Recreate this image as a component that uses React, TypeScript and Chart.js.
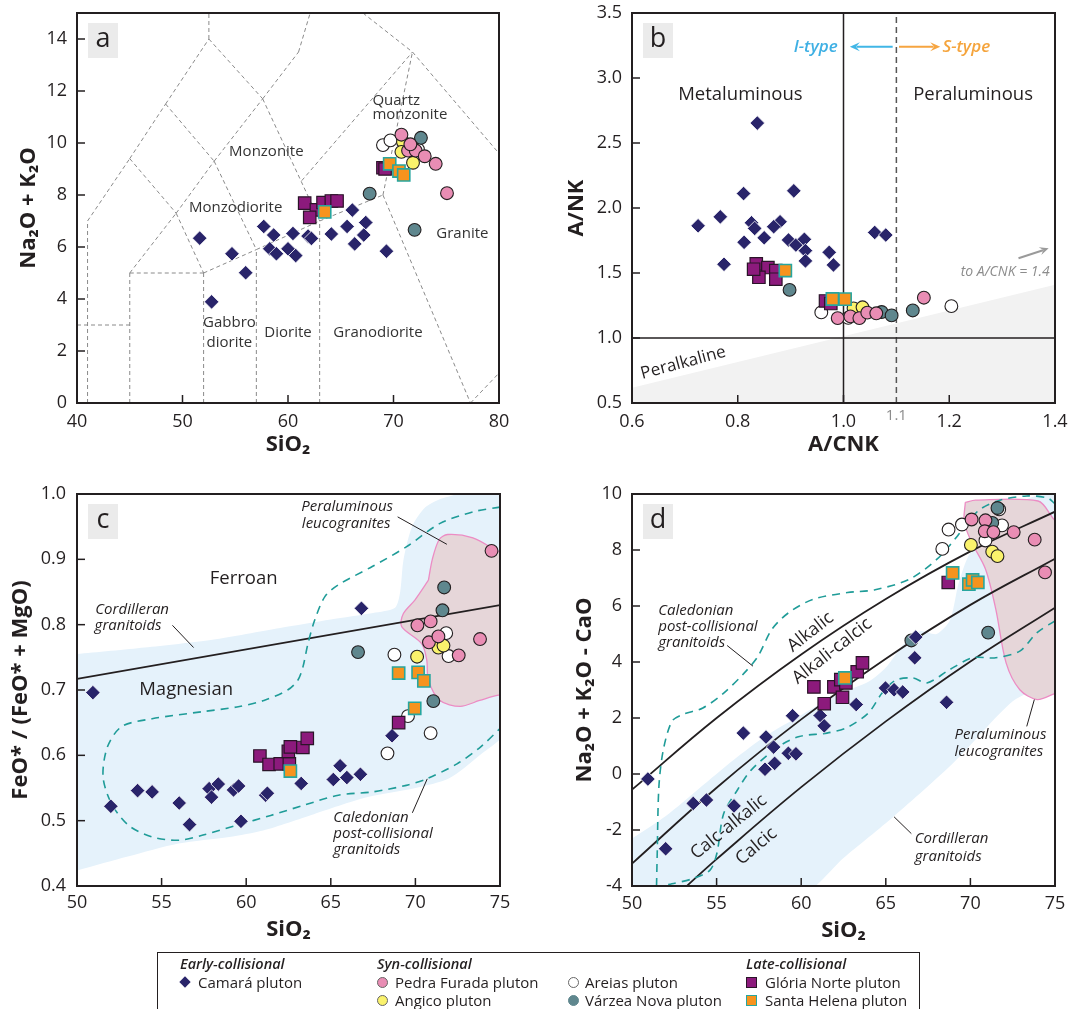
import React, { useEffect, useRef } from 'react';
import { Chart, registerables } from 'chart.js';

Chart.register(...registerables);

type P = [number, number];
const FONT = '"Open Sans", "Noto Sans", "DejaVu Sans", sans-serif';
const INK = '#231f20';
Chart.defaults.font.family = FONT;
Chart.defaults.color = INK;

// ---------------- tick values ----------------
const xTicksA = [40, 50, 60, 70, 80];
const yTicksA = [0, 2, 4, 6, 8, 10, 12, 14];
const xTicksB = [0.6, 0.8, 1.0, 1.2, 1.4];
const yTicksB = [0.5, 1.0, 1.5, 2.0, 2.5, 3.0, 3.5];
const xTicksCD = [50, 55, 60, 65, 70, 75];
const yTicksC = [0.4, 0.5, 0.6, 0.7, 0.8, 0.9, 1.0];
const yTicksD = [-4, -2, 0, 2, 4, 6, 8, 10];

// ---------------- panel a: TAS ----------------
const camaraA: P[] = [[51.63, 6.34], [52.76, 3.89], [54.69, 5.74], [55.99, 5.01], [57.7, 6.79], [58.64, 6.46], [60.47, 6.52], [61.9, 6.42], [62.22, 6.33], [58.27, 5.93], [58.9, 5.74], [60.0, 5.93], [60.73, 5.67], [64.11, 6.5], [66.1, 7.42], [65.6, 6.79], [67.37, 6.94], [67.18, 6.46], [66.32, 6.12], [69.33, 5.84]];
const pedraA: P[] = [[70.75, 10.32], [71.38, 9.71], [72.1, 9.71], [72.96, 9.49], [74.0, 9.2], [75.07, 8.07], [71.6, 9.95]];
const angicoA: P[] = [[70.9, 10.04], [70.75, 9.66], [71.85, 9.24]];
const areiasA: P[] = [[69.0, 9.92], [69.71, 10.1], [72.32, 9.75], [71.6, 9.85]];
const varzeaA: P[] = [[72.6, 10.2], [67.74, 8.05], [72.0, 6.66]];
const gloriaA: P[] = [[61.58, 7.69], [62.69, 7.43], [62.06, 7.14], [63.32, 7.71], [64.11, 7.77], [64.65, 7.77], [69.0, 9.05], [69.2, 9.0]];
const santaA: P[] = [[63.48, 7.35], [69.64, 9.2], [70.52, 8.92], [70.97, 8.77]];
const tasLinesA: [number, number, number, number][] = [
  [41, 0, 41, 7], [40, 3, 45, 3], [45, 0, 45, 5], [45, 5, 52, 5], [52, 0, 52, 5], [57, 0, 57, 5.9], [63, 0, 63, 7],
  [52, 5, 57, 5.9], [57, 5.9, 63, 7], [63, 7, 69, 8], [69, 8, 77.3, 0], [77.3, 0, 80, 1.15],
  [41, 7, 45, 9.4], [45, 9.4, 48.4, 11.5], [48.4, 11.5, 52.5, 14], [52.5, 14, 52.5, 15],
  [45, 5, 49.4, 7.3], [49.4, 7.3, 53, 9.3], [53, 9.3, 57.6, 11.7], [57.6, 11.7, 61, 13.5], [61, 13.5, 62.1, 15],
  [45, 9.4, 49.4, 7.3], [49.4, 7.3, 52, 5], [48.4, 11.5, 53, 9.3], [53, 9.3, 57, 5.9],
  [52.5, 14, 57.6, 11.7], [57.6, 11.7, 63, 7], [61.3, 8.55, 71.8, 13.5], [69, 8, 71.8, 13.5],
  [67.1, 15, 71.8, 13.5], [71.8, 13.5, 80, 9.6],
];

// ---------------- panel b: A/NK vs A/CNK ----------------
const camaraB: P[] = [[0.837, 2.653], [0.725, 1.863], [0.767, 1.932], [0.774, 1.567], [0.811, 2.111], [0.906, 2.132], [0.812, 1.736], [0.826, 1.886], [0.832, 1.843], [0.85, 1.771], [0.88, 1.894], [0.868, 1.856], [0.896, 1.754], [0.91, 1.715], [0.926, 1.759], [0.928, 1.672], [0.928, 1.593], [0.973, 1.659], [0.981, 1.562], [1.059, 1.812], [1.08, 1.792]];
const pedraB: P[] = [[1.152, 1.31], [0.989, 1.153], [1.013, 1.166], [1.03, 1.153], [1.045, 1.195], [1.062, 1.19]];
const angicoB: P[] = [[1.019, 1.228], [1.036, 1.236]];
const areiasB: P[] = [[0.958, 1.197], [1.009, 1.155], [1.204, 1.245]];
const varzeaB: P[] = [[0.898, 1.37], [1.072, 1.2], [1.091, 1.174], [1.131, 1.212]];
const gloriaB: P[] = [[0.835, 1.57], [0.857, 1.542], [0.872, 1.519], [0.84, 1.467], [0.872, 1.452], [0.83, 1.529], [0.966, 1.285], [0.976, 1.265]];
const santaB: P[] = [[0.89, 1.519], [0.979, 1.3], [1.003, 1.299]];
const peralkalineB: P[] = [[0.6, 0.45], [0.6, 0.617], [1.4, 1.409], [1.4, 0.45]];
const hLineB: P[] = [[0.6, 1.0], [1.4, 1.0]];
const vLineB: P[] = [[1.0, 0.5], [1.0, 3.5]];
const vDashB: P[] = [[1.1, 0.5], [1.1, 3.5]];

// ---------------- panel c: FeO*/(FeO*+MgO) ----------------
const camaraC: P[] = [[50.94, 0.696], [52.0, 0.522], [53.58, 0.546], [54.44, 0.544], [56.04, 0.527], [56.65, 0.494], [57.81, 0.549], [57.95, 0.536], [58.35, 0.556], [59.25, 0.547], [59.55, 0.553], [59.69, 0.499], [61.15, 0.539], [61.25, 0.542], [63.25, 0.557], [65.15, 0.563], [65.55, 0.584], [65.95, 0.566], [66.75, 0.571], [66.81, 0.825], [68.62, 0.63]];
const pedraC: P[] = [[70.12, 0.799], [70.9, 0.805], [70.8, 0.773], [71.36, 0.782], [72.56, 0.753], [73.82, 0.778], [74.5, 0.913]];
const angicoC: P[] = [[70.1, 0.751], [71.36, 0.765], [71.66, 0.768]];
const areiasC: P[] = [[68.76, 0.754], [69.56, 0.66], [68.35, 0.603], [70.9, 0.634], [71.82, 0.787], [71.96, 0.752]];
const varzeaC: P[] = [[66.61, 0.758], [71.7, 0.857], [71.6, 0.822], [71.06, 0.683]];
const gloriaC: P[] = [[60.81, 0.599], [61.35, 0.586], [62.01, 0.587], [62.55, 0.587], [62.49, 0.606], [62.61, 0.613], [63.35, 0.612], [63.61, 0.626], [69.01, 0.65]];
const santaC: P[] = [[62.61, 0.576], [69.01, 0.726], [70.16, 0.727], [70.5, 0.714], [69.96, 0.672]];
const ferroanLineC: P[] = [[50, 0.717], [75, 0.83]];
const cordilleranC: P[] = [[50, 0.755], [54, 0.765], [58, 0.777], [62, 0.795], [65, 0.808], [67.5, 0.818], [68.8, 0.826], [69.1, 0.85], [69.3, 0.9], [69.8, 0.95], [70.6, 0.98], [71.8, 0.995], [75.5, 1.01], [75.5, 0.643], [73.8, 0.6], [72, 0.565], [70, 0.55], [67, 0.535], [64, 0.51], [61, 0.485], [59, 0.475], [56, 0.465], [53, 0.445], [49.5, 0.42]];
const leucoC: P[] = [[70.77, 0.868], [71.0, 0.9], [71.4, 0.93], [71.9, 0.938], [73.4, 0.933], [74.6, 0.916], [75.5, 0.9], [75.5, 0.69], [74.9, 0.692], [73.8, 0.684], [72.64, 0.675], [71.45, 0.684], [70.77, 0.715], [70.67, 0.746], [70.37, 0.771], [69.19, 0.797], [69.29, 0.817], [69.98, 0.838], [70.77, 0.868]];
const caledonianC: P[] = [[75, 0.98], [73.46, 0.973], [71.46, 0.955], [69.46, 0.919], [67.45, 0.889], [65.45, 0.861], [64.65, 0.843], [64.05, 0.807], [63.65, 0.771], [63.35, 0.735], [63.05, 0.715], [62.45, 0.7], [61.05, 0.684], [59.45, 0.674], [57.45, 0.667], [54.44, 0.656], [52.64, 0.644], [51.8, 0.613], [51.54, 0.567], [52.04, 0.526], [53.04, 0.493], [54.44, 0.475], [56.04, 0.47], [57.45, 0.478], [59.45, 0.493], [61.45, 0.508], [63.45, 0.524], [65.45, 0.539], [67.45, 0.544], [69.46, 0.554], [70.66, 0.564], [72.46, 0.587], [73.86, 0.613], [75, 0.641]];

// ---------------- panel d: MALI ----------------
const camaraD: P[] = [[50.94, -0.18], [51.99, -2.67], [53.62, -1.05], [54.4, -0.93], [56.03, -1.14], [56.58, 1.46], [57.92, 1.32], [57.86, 0.17], [58.37, 0.96], [58.43, 0.38], [59.24, 0.74], [59.69, 0.72], [59.49, 2.08], [61.12, 2.09], [61.36, 1.72], [63.25, 2.48], [64.98, 3.07], [65.49, 3.01], [66.0, 2.93], [66.71, 4.15], [66.77, 4.89], [68.59, 2.56]];
const pedraD: P[] = [[70.07, 9.09], [70.89, 9.06], [70.85, 8.67], [71.36, 8.64], [72.56, 8.64], [73.8, 8.37], [74.41, 7.2]];
const angicoD: P[] = [[70.03, 8.18], [71.29, 7.94], [71.6, 7.78]];
const areiasD: P[] = [[68.34, 8.04], [68.71, 8.73], [69.5, 8.91], [70.89, 8.34], [71.87, 8.88], [71.7, 9.45]];
const varzeaD: P[] = [[71.05, 5.05], [71.29, 8.97], [71.6, 9.5], [66.51, 4.77]];
const gloriaD: P[] = [[60.75, 3.11], [61.36, 2.51], [61.93, 3.11], [62.44, 2.74], [62.34, 3.37], [62.64, 3.25], [63.31, 3.65], [63.62, 3.97], [68.69, 6.84]];
const santaD: P[] = [[62.58, 3.43], [68.95, 7.18], [69.91, 6.78], [70.13, 6.93], [70.44, 6.84]];
const alkalicLineD: P[] = [[50, -0.56], [55, 2.0], [60, 4.27], [65, 6.25], [70, 7.95], [75, 9.37]];
const alkaliCalcicLineD: P[] = [[50, -3.2], [55, -0.49], [60, 1.95], [65, 4.12], [70, 6.04], [75, 7.69]];
const calcAlkalicLineD: P[] = [[53.2, -4.02], [55, -3.04], [60, -0.47], [65, 1.88], [70, 4.02], [75, 5.94]];
const cordilleranD: P[] = [[49.5, -2.5], [52, -1.5], [54, -0.5], [56, 0.5], [58, 1.4], [60, 2.1], [62, 2.8], [64, 3.3], [65, 3.8], [66, 4.6], [67, 5.1], [68, 5.0], [68.8, 5.5], [69.3, 6.8], [69.9, 7.8], [71, 8.7], [72.5, 9.6], [75.5, 10.0], [75.5, 3.7], [72.5, 2.6], [69, 0.4], [65.5, -1.5], [62.5, -3.0], [60, -4.3], [49.5, -4.3]];
const leucoD: P[] = [[69.7, 9.7], [70.3, 9.78], [74.0, 9.75], [74.8, 9.2], [75.5, 8.5], [75.5, 3.0], [74.9, 2.85], [73.94, 2.66], [72.92, 3.01], [72.11, 3.97], [71.5, 5.89], [70.89, 7.32], [70.07, 8.28], [69.63, 9.0], [69.7, 9.7]];
const caledonianUpperD: P[] = [[51.45, -4.0], [51.49, -2.85], [51.59, -0.45], [51.85, 0.86], [52.36, 1.88], [52.97, 2.12], [54.19, 2.36], [55.42, 2.89], [56.64, 3.61], [57.45, 4.21], [58.27, 5.17], [59.28, 5.77], [60.71, 6.24], [62.74, 6.48], [64.37, 6.58], [66.41, 6.96], [68.04, 7.68], [69.26, 8.52], [70.48, 9.41], [71.7, 9.77], [73.33, 9.93], [74.55, 9.86], [75, 9.65]];
const caledonianLowerD: P[] = [[75, 5.47], [73.94, 5.05], [72.92, 4.39], [71.5, 4.15], [70.11, 4.15], [68.7, 3.7], [67.43, 3.25], [66.61, 3.43], [65.59, 3.35], [64.78, 2.89], [63.97, 2.18], [62.74, 1.67], [61.52, 1.46], [59.89, 1.34], [58.67, 0.98], [57.04, 0.14], [56.23, -0.57], [55.42, -1.41], [55.01, -2.85], [54.6, -3.44], [53.58, -3.74], [52.36, -3.92], [51.75, -4.0]];

// ---------------- series styles ----------------
const SERIES = [
  { key: 'santa', label: 'Santa Helena pluton', style: 'rect', r: 8.6, bg: '#f7931e', bc: '#27a69f', bw: 1.6, order: 1 },
  { key: 'gloria', label: 'Glória Norte pluton', style: 'rect', r: 8.8, bg: '#8c1a7c', bc: '#2a1428', bw: 1.2, order: 2 },
  { key: 'pedra', label: 'Pedra Furada pluton', style: 'circle', r: 6.4, bg: '#e98db4', bc: INK, bw: 1.1, order: 3 },
  { key: 'camara', label: 'Camará pluton', style: 'rectRot', r: 7.3, bg: '#29246a', bc: '#ffffff', bw: 0.8, order: 4 },
  { key: 'varzea', label: 'Várzea Nova pluton', style: 'circle', r: 6.4, bg: '#5f878e', bc: INK, bw: 1.1, order: 5 },
  { key: 'angico', label: 'Angico pluton', style: 'circle', r: 6.4, bg: '#faf26c', bc: INK, bw: 1.1, order: 6 },
  { key: 'areias', label: 'Areias pluton', style: 'circle', r: 6.4, bg: '#ffffff', bc: INK, bw: 1.1, order: 7 },
];

const xy = (a: P[]) => a.map(([x, y]) => ({ x, y }));

function pointSets(d: Record<string, P[]>) {
  return SERIES.map((s) => ({
    label: s.label,
    data: xy(d[s.key]),
    showLine: false,
    pointStyle: s.style,
    pointRadius: s.r,
    pointBackgroundColor: s.bg,
    pointBorderColor: s.bc,
    pointBorderWidth: s.bw,
    order: s.order,
  }));
}

function lineSet(pts: P[], color: string, width: number, dash: number[] = [], tension = 0) {
  return { data: xy(pts), showLine: true, borderColor: color, borderWidth: width, borderDash: dash, pointRadius: 0, tension, fill: false, order: 50 };
}

function polySet(pts: P[], fillColor: string, order: number, stroke?: string, tension = 0) {
  return {
    data: xy(pts), showLine: true, fill: 'shape', backgroundColor: fillColor,
    borderColor: stroke || 'rgba(0,0,0,0)', borderWidth: stroke ? 1.3 : 0,
    pointRadius: 0, tension, order,
  };
}

// ---------------- annotations ----------------
type Txt = { x: number; y: number; t: string; size: number; align?: string; italic?: boolean; weight?: number; color?: string; rot?: number; dy?: number };
type Arrow = { a: P; b: P; color: string; width: number; head: number };
type Anno = { letter: string; texts: Txt[]; leaders?: [P, P][]; arrows?: Arrow[] };

function annoPlugin(spec: Anno) {
  return {
    id: 'anno' + spec.letter,
    afterDatasetsDraw(chart: any) {
      const { ctx, chartArea: ca } = chart;
      const xs = chart.scales.x;
      const ys = chart.scales.y;
      const px = (v: number) => xs.getPixelForValue(v);
      const py = (v: number) => ys.getPixelForValue(v);
      ctx.save();
      ctx.setLineDash([]);
      ctx.strokeStyle = INK;
      ctx.lineWidth = 1;
      for (const [p, q] of spec.leaders || []) {
        ctx.beginPath();
        ctx.moveTo(px(p[0]), py(p[1]));
        ctx.lineTo(px(q[0]), py(q[1]));
        ctx.stroke();
      }
      for (const ar of spec.arrows || []) {
        const x1 = px(ar.a[0]), y1 = py(ar.a[1]), x2 = px(ar.b[0]), y2 = py(ar.b[1]);
        const ang = Math.atan2(y2 - y1, x2 - x1);
        const h = ar.head;
        ctx.strokeStyle = ar.color;
        ctx.fillStyle = ar.color;
        ctx.lineWidth = ar.width;
        ctx.beginPath();
        ctx.moveTo(x1, y1);
        ctx.lineTo(x2 - h * 0.6 * Math.cos(ang), y2 - h * 0.6 * Math.sin(ang));
        ctx.stroke();
        ctx.beginPath();
        ctx.moveTo(x2, y2);
        ctx.lineTo(x2 - h * Math.cos(ang - 0.42), y2 - h * Math.sin(ang - 0.42));
        ctx.lineTo(x2 - h * 0.55 * Math.cos(ang), y2 - h * 0.55 * Math.sin(ang));
        ctx.lineTo(x2 - h * Math.cos(ang + 0.42), y2 - h * Math.sin(ang + 0.42));
        ctx.closePath();
        ctx.fill();
      }
      for (const t of spec.texts) {
        ctx.save();
        ctx.translate(px(t.x), py(t.y) + (t.dy || 0));
        if (t.rot) ctx.rotate((t.rot * Math.PI) / 180);
        ctx.font = `${t.italic ? 'italic ' : ''}${t.weight || 400} ${t.size}px ${FONT}`;
        ctx.fillStyle = t.color || INK;
        ctx.textAlign = (t.align || 'center') as CanvasTextAlign;
        ctx.textBaseline = 'middle';
        ctx.fillText(t.t, 0, 0);
        ctx.restore();
      }
      // inward tick marks
      ctx.strokeStyle = INK;
      ctx.lineWidth = 1.5;
      for (const tk of xs.ticks) {
        const v = tk.value;
        if (v <= xs.min + 1e-9 || v >= xs.max - 1e-9) continue;
        const p = px(v);
        ctx.beginPath();
        ctx.moveTo(p, ca.bottom);
        ctx.lineTo(p, ca.bottom - 8);
        ctx.stroke();
      }
      for (const tk of ys.ticks) {
        const v = tk.value;
        if (v <= ys.min + 1e-9 || v >= ys.max - 1e-9) continue;
        const p = py(v);
        ctx.beginPath();
        ctx.moveTo(ca.left, p);
        ctx.lineTo(ca.left + 8, p);
        ctx.stroke();
      }
      // frame
      ctx.lineWidth = 2;
      ctx.strokeRect(ca.left, ca.top, ca.right - ca.left, ca.bottom - ca.top);
      // panel letter
      ctx.fillStyle = '#ebebeb';
      ctx.fillRect(ca.left + 11, ca.top + 10, 30, 35);
      ctx.fillStyle = INK;
      ctx.font = `400 27px ${FONT}`;
      ctx.textAlign = 'center';
      ctx.textBaseline = 'middle';
      ctx.fillText(spec.letter, ca.left + 26, ca.top + 26);
      ctx.restore();
    },
  };
}

function axis(min: number, max: number, ticks: number[], fmt: (v: number) => string, title: string, horiz: boolean, size: number, titlePad: number, tickPad: number) {
  return {
    type: 'linear',
    min,
    max,
    afterBuildTicks: (s: any) => {
      s.ticks = ticks.map((v) => ({ value: v }));
    },
    afterFit: (s: any) => {
      if (horiz) {
        s.height = size;
        s.paddingLeft = 0;
        s.paddingRight = 0;
      } else {
        s.width = size;
        s.paddingTop = 0;
        s.paddingBottom = 0;
      }
    },
    ticks: { autoSkip: false, maxRotation: 0, minRotation: 0, padding: tickPad, color: INK, font: { family: FONT, size: 18 }, callback: (v: any) => fmt(Number(v)) },
    grid: { display: false, drawTicks: false },
    border: { display: false },
    title: {
      display: true, text: title, color: INK,
      font: { family: FONT, size: 22, weight: 'bold' },
      padding: horiz ? { top: 0, bottom: titlePad } : { top: titlePad, bottom: 0 },
    },
  };
}

function config(datasets: any[], x: any, y: any, padTop: number, padRight: number, spec: Anno) {
  return {
    type: 'scatter',
    data: { datasets },
    options: {
      responsive: false,
      maintainAspectRatio: false,
      animation: false,
      events: [],
      layout: { padding: { top: padTop, right: padRight, left: 0, bottom: 0 } },
      plugins: { legend: { display: false }, tooltip: { enabled: false } },
      scales: { x, y },
    },
    plugins: [annoPlugin(spec)],
  };
}

const int = (v: number) => String(v);
const one = (v: number) => v.toFixed(1);

// ---------------- panel builders ----------------
function buildA() {
  const tas = tasLinesA.map(([a, b, c, d]) => lineSet([[a, b], [c, d]], '#8a8a8a', 1, [4, 3]));
  const ds = [...tas, ...pointSets({ camara: camaraA, pedra: pedraA, angico: angicoA, areias: areiasA, varzea: varzeaA, gloria: gloriaA, santa: santaA })];
  const c = '#333333';
  const spec: Anno = {
    letter: 'a',
    texts: [
      { x: 57.95, y: 9.66, t: 'Monzonite', size: 15, color: c },
      { x: 55.04, y: 7.52, t: 'Monzodiorite', size: 15, color: c },
      { x: 68.0, y: 11.64, t: 'Quartz', size: 15, color: c, align: 'left' },
      { x: 68.0, y: 11.09, t: 'monzonite', size: 15, color: c, align: 'left' },
      { x: 74.06, y: 6.5, t: 'Granite', size: 15, color: c, align: 'left' },
      { x: 54.45, y: 3.08, t: 'Gabbro', size: 15, color: c },
      { x: 54.45, y: 2.33, t: 'diorite', size: 15, color: c },
      { x: 60.0, y: 2.72, t: 'Diorite', size: 15, color: c },
      { x: 68.53, y: 2.72, t: 'Granodiorite', size: 15, color: c },
    ],
  };
  return config(ds, axis(40, 80, xTicksA, int, 'SiO\u2082', true, 67, 12, 8), axis(0, 15, yTicksA, int, 'Na\u2082O + K\u2082O', false, 77, 16, 10), 13, 36, spec);
}

function buildB() {
  const ds = [
    polySet(peralkalineB, '#f2f2f2', 100),
    lineSet(hLineB, INK, 1.5),
    lineSet(vLineB, INK, 1.5),
    lineSet(vDashB, '#555555', 1.5, [6, 4]),
    ...pointSets({ camara: camaraB, pedra: pedraB, angico: angicoB, areias: areiasB, varzea: varzeaB, gloria: gloriaB, santa: santaB }),
  ];
  const spec: Anno = {
    letter: 'b',
    texts: [
      { x: 0.805, y: 2.872, t: 'Metaluminous', size: 18.5 },
      { x: 1.245, y: 2.872, t: 'Peraluminous', size: 18.5 },
      { x: 0.989, y: 3.24, t: 'I-type', size: 17, italic: true, weight: 600, color: '#3fb0e4', align: 'right' },
      { x: 1.187, y: 3.24, t: 'S-type', size: 17, italic: true, weight: 600, color: '#f5a43c', align: 'left' },
      { x: 0.697, y: 0.808, t: 'Peralkaline', size: 17, rot: -15 },
      { x: 1.39, y: 1.506, t: 'to A/CNK = 1.4', size: 14, italic: true, color: '#8c8c8c', align: 'right' },
      { x: 1.1, y: 0.5, t: '1.1', size: 15, color: '#8c8c8c', dy: 13 },
    ],
    arrows: [
      { a: [1.093, 3.24], b: [1.012, 3.24], color: '#41b6e6', width: 2, head: 11 },
      { a: [1.105, 3.24], b: [1.183, 3.24], color: '#f6a540', width: 2, head: 11 },
      { a: [1.331, 1.613], b: [1.388, 1.69], color: '#9a9a9a', width: 2, head: 10 },
    ],
  };
  return config(ds, axis(0.6, 1.4, xTicksB, one, 'A/CNK', true, 67, 12, 8), axis(0.5, 3.5, yTicksB, one, 'A/NK', false, 97, 29, 10), 13, 15, spec);
}

function buildC() {
  const ds = [
    polySet(cordilleranC, '#e5f2fb', 120, undefined, 0.25),
    polySet(leucoC, '#e6d6d9', 110, '#ec8cc4', 0.3),
    lineSet(caledonianC, '#1f9c98', 1.6, [8, 6], 0.3),
    lineSet(ferroanLineC, INK, 1.8),
    ...pointSets({ camara: camaraC, pedra: pedraC, angico: angicoC, areias: areiasC, varzea: varzeaC, gloria: gloriaC, santa: santaC }),
  ];
  const spec: Anno = {
    letter: 'c',
    texts: [
      { x: 59.85, y: 0.871, t: 'Ferroan', size: 18.5 },
      { x: 56.45, y: 0.7, t: 'Magnesian', size: 18.5 },
      { x: 51.08, y: 0.823, t: 'Cordilleran', size: 15, italic: true, align: 'left' },
      { x: 51.04, y: 0.798, t: 'granitoids', size: 15, italic: true, align: 'left' },
      { x: 63.25, y: 0.98, t: 'Peraluminous', size: 15, italic: true, align: 'left' },
      { x: 63.29, y: 0.954, t: 'leucogranites', size: 15, italic: true, align: 'left' },
      { x: 65.15, y: 0.504, t: 'Caledonian', size: 15, italic: true, align: 'left' },
      { x: 65.15, y: 0.48, t: 'post-collisional', size: 15, italic: true, align: 'left' },
      { x: 65.15, y: 0.455, t: 'granitoids', size: 15, italic: true, align: 'left' },
    ],
    leaders: [
      [[55.64, 0.799], [56.89, 0.765]],
      [[68.95, 0.965], [71.86, 0.923]],
      [[69.82, 0.512], [70.7, 0.564]],
    ],
  };
  return config(ds, axis(50, 75, xTicksCD, int, 'SiO\u2082', true, 74, 17, 6), axis(0.4, 1.0, yTicksC, one, 'FeO* / (FeO* + MgO)', false, 77, 8, 11), 24, 35, spec);
}

function buildD() {
  const ds = [
    polySet(cordilleranD, '#e5f2fb', 120, undefined, 0.25),
    polySet(leucoD, '#e6d6d9', 110, '#ec8cc4', 0.3),
    lineSet(caledonianUpperD, '#1f9c98', 1.6, [8, 6], 0.3),
    lineSet(caledonianLowerD, '#1f9c98', 1.6, [8, 6], 0.3),
    lineSet(alkalicLineD, INK, 1.8, [], 0.4),
    lineSet(alkaliCalcicLineD, INK, 1.8, [], 0.4),
    lineSet(calcAlkalicLineD, INK, 1.8, [], 0.4),
    ...pointSets({ camara: camaraD, pedra: pedraD, angico: angicoD, areias: areiasD, varzea: varzeaD, gloria: gloriaD, santa: santaD }),
  ];
  const spec: Anno = {
    letter: 'd',
    texts: [
      { x: 51.55, y: 5.83, t: 'Caledonian', size: 15, italic: true, align: 'left' },
      { x: 51.55, y: 5.26, t: 'post-collisional', size: 15, italic: true, align: 'left' },
      { x: 51.55, y: 4.69, t: 'granitoids', size: 15, italic: true, align: 'left' },
      { x: 60.55, y: 5.07, t: 'Alkalic', size: 18, rot: -38 },
      { x: 61.83, y: 4.39, t: 'Alkali-calcic', size: 18, rot: -38 },
      { x: 55.72, y: -1.89, t: 'Calc-alkalic', size: 18, rot: -39 },
      { x: 57.35, y: -2.58, t: 'Calcic', size: 18, rot: -40 },
      { x: 69.06, y: 1.4, t: 'Peraluminous', size: 15, italic: true, align: 'left' },
      { x: 69.06, y: 0.8, t: 'leucogranites', size: 15, italic: true, align: 'left' },
      { x: 66.71, y: -2.31, t: 'Cordilleran', size: 15, italic: true, align: 'left' },
      { x: 66.71, y: -2.94, t: 'granitoids', size: 15, italic: true, align: 'left' },
    ],
    leaders: [
      [[55.62, 4.59], [57.15, 3.85]],
      [[73.33, 1.7], [73.78, 2.66]],
      [[66.51, -2.13], [65.49, -1.53]],
    ],
  };
  return config(ds, axis(50, 75, xTicksCD, int, 'SiO\u2082', true, 74, 16, 7), axis(-4, 10, yTicksD, int, 'Na\u2082O + K\u2082O - CaO', false, 97, 37, 10), 24, 15, spec);
}

function Panel({ build, left, top, width, height }: { build: () => any; left: number; top: number; width: number; height: number }) {
  const ref = useRef<HTMLCanvasElement>(null);
  useEffect(() => {
    const chart = new Chart(ref.current as HTMLCanvasElement, build());
    return () => chart.destroy();
  }, []);
  return <canvas ref={ref} width={width} height={height} style={{ position: 'absolute', left, top, width, height }} />;
}

// ---------------- legend ----------------
function Sym({ kind, cx, cy, bg, bc }: { kind: string; cx: number; cy: number; bg: string; bc: string }) {
  if (kind === 'diamond') {
    return <div style={{ position: 'absolute', left: cx - 4, top: cy - 4, width: 8, height: 8, background: bg, transform: 'rotate(45deg)' }} />;
  }
  if (kind === 'circle') {
    return <div style={{ position: 'absolute', left: cx - 5.5, top: cy - 5.5, width: 11, height: 11, boxSizing: 'border-box', borderRadius: '50%', background: bg, border: `1px solid ${bc}` }} />;
  }
  return <div style={{ position: 'absolute', left: cx - 5.5, top: cy - 5.5, width: 11, height: 11, boxSizing: 'border-box', background: bg, border: `1.3px solid ${bc}` }} />;
}

function Legend() {
  const rows = [964, 982, 1000];
  const hdr: React.CSSProperties = { position: 'absolute', fontStyle: 'italic', fontWeight: 600, fontSize: 14.5, lineHeight: '18px', color: INK, whiteSpace: 'nowrap', fontFamily: FONT };
  const itm: React.CSSProperties = { position: 'absolute', fontSize: 15, lineHeight: '18px', color: INK, whiteSpace: 'nowrap', fontFamily: FONT };
  const items = [
    { kind: 'diamond', sx: 185, tx: 198, row: 1, bg: '#29246a', bc: '#29246a', label: 'Camará pluton' },
    { kind: 'circle', sx: 382, tx: 395, row: 1, bg: '#e98db4', bc: '#666', label: 'Pedra Furada pluton' },
    { kind: 'circle', sx: 382, tx: 395, row: 2, bg: '#faf26c', bc: '#666', label: 'Angico pluton' },
    { kind: 'circle', sx: 573, tx: 585, row: 1, bg: '#ffffff', bc: '#666', label: 'Areias pluton' },
    { kind: 'circle', sx: 573, tx: 585, row: 2, bg: '#5f878e', bc: '#5f878e', label: 'Várzea Nova pluton' },
    { kind: 'square', sx: 751, tx: 765, row: 1, bg: '#8c1a7c', bc: '#2a1428', label: 'Glória Norte pluton' },
    { kind: 'square', sx: 751, tx: 765, row: 2, bg: '#f7931e', bc: '#27a69f', label: 'Santa Helena pluton' },
  ];
  const headers = [
    { x: 180, t: 'Early-collisional' },
    { x: 377, t: 'Syn-collisional' },
    { x: 746, t: 'Late-collisional' },
  ];
  return (
    <>
      <div style={{ position: 'absolute', left: 157, top: 952, width: 763, height: 90, border: `1.4px solid ${INK}`, boxSizing: 'border-box' }} />
      {headers.map((h) => (
        <div key={h.t} style={{ ...hdr, left: h.x, top: rows[0] - 9 }}>{h.t}</div>
      ))}
      {items.map((it) => (
        <React.Fragment key={it.label}>
          <Sym kind={it.kind} cx={it.sx} cy={rows[it.row]} bg={it.bg} bc={it.bc} />
          <div style={{ ...itm, left: it.tx, top: rows[it.row] - 9 }}>{it.label}</div>
        </React.Fragment>
      ))}
    </>
  );
}

export default function App() {
  return (
    <div style={{ position: 'absolute', left: 0, top: 0, width: 1070, height: 1009, overflow: 'hidden', background: '#ffffff', fontFamily: FONT }}>
      <Panel build={buildA} left={0} top={0} width={535} height={470} />
      <Panel build={buildB} left={535} top={0} width={535} height={470} />
      <Panel build={buildC} left={0} top={470} width={535} height={490} />
      <Panel build={buildD} left={535} top={470} width={535} height={490} />
      <Legend />
    </div>
  );
}
